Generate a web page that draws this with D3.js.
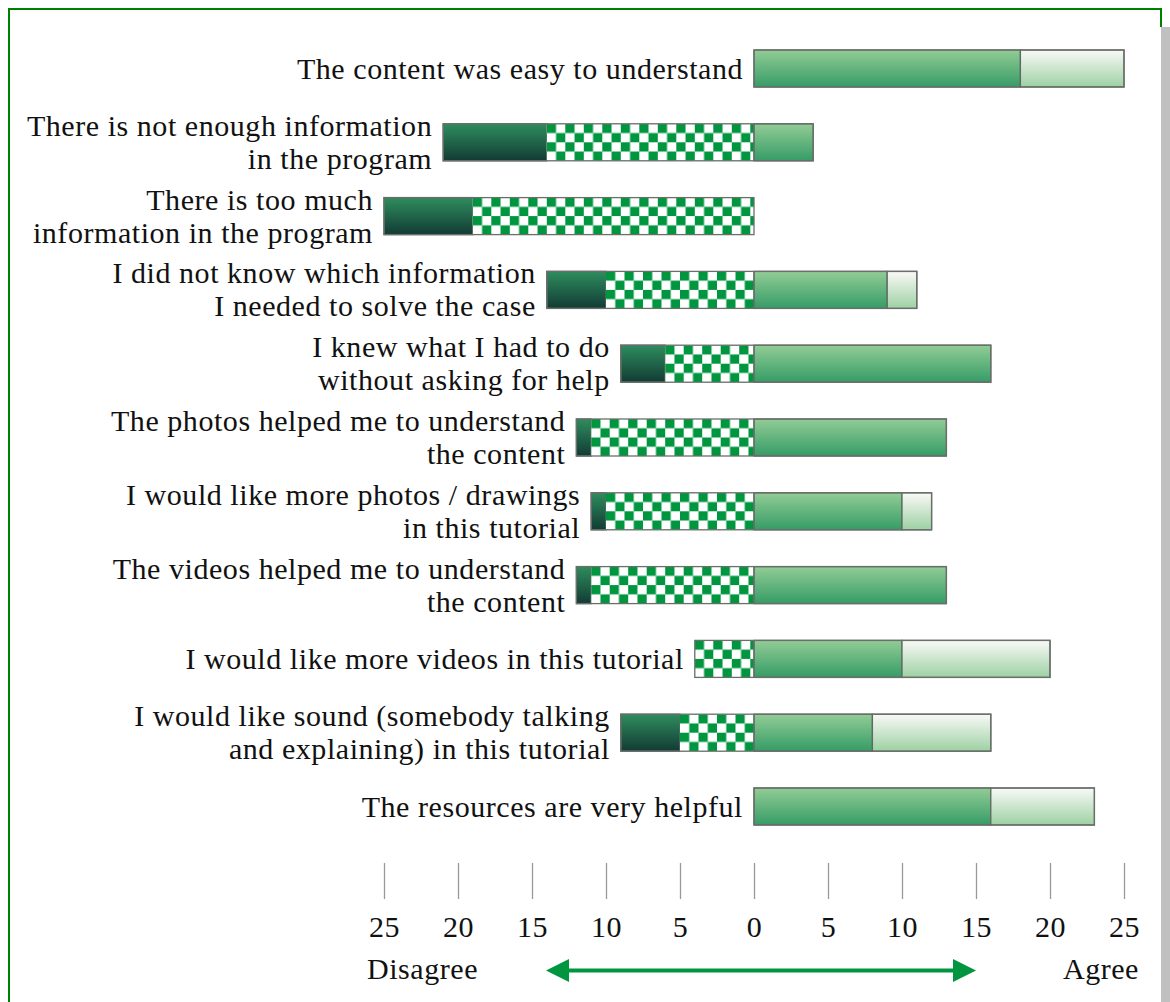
<!DOCTYPE html>
<html><head><meta charset="utf-8">
<script src="https://cdn.jsdelivr.net/npm/d3@7"></script>
<style>html,body{margin:0;padding:0;background:#fff;} svg{display:block;}</style>
</head><body>
<svg id="chart" width="1170" height="1002"></svg>
<script>
// ---- data ----
const categories = [
  ["The content was easy to understand"],
  ["There is not enough information", "in the program"],
  ["There is too much", "information in the program"],
  ["I did not know which information", "I needed to solve the case"],
  ["I knew what I had to do", "without asking for help"],
  ["The photos helped me to understand", "the content"],
  ["I would like more photos / drawings", "in this tutorial"],
  ["The videos helped me to understand", "the content"],
  ["I would like more videos in this tutorial"],
  ["I would like sound (somebody talking", "and explaining) in this tutorial"],
  ["The resources are very helpful"]
];
const stronglyDisagree = [0, 7, 6, 4, 3, 1, 1, 1, 0, 4, 0];
const disagree         = [0, 14, 19, 10, 6, 11, 10, 11, 4, 5, 0];
const agree            = [18, 4, 0, 9, 16, 13, 10, 13, 10, 8, 16];
const stronglyAgree    = [7, 0, 0, 2, 0, 0, 2, 0, 10, 8, 7];
const tickValues = [-25, -20, -15, -10, -5, 0, 5, 10, 15, 20, 25];
const axisLabels = ["Disagree", "Agree"];

// ---- drawing ----
const svg = d3.select("#chart");
const defs = svg.append("defs");
function grad(id, top, bottom) {
  const g = defs.append("linearGradient").attr("id", id)
    .attr("x1", 0).attr("y1", 0).attr("x2", 0).attr("y2", 1);
  g.append("stop").attr("offset", "0%").attr("stop-color", top);
  g.append("stop").attr("offset", "100%").attr("stop-color", bottom);
}
grad("gSD", "#2e8d5e", "#123b34");
grad("gA", "#92cc96", "#369c66");
grad("gSA", "#faf9f7", "#9dd1a3");

const sq = 9.25;
const pat = defs.append("pattern").attr("id", "chk")
  .attr("patternUnits", "userSpaceOnUse")
  .attr("width", sq * 2).attr("height", sq * 2);
pat.append("rect").attr("width", sq * 2).attr("height", sq * 2).attr("fill", "#fff");
pat.append("rect").attr("x", 0).attr("y", 0).attr("width", sq).attr("height", sq).attr("fill", "#00963f");
pat.append("rect").attr("x", sq).attr("y", sq).attr("width", sq).attr("height", sq).attr("fill", "#00963f");

// frame & shadow
svg.append("rect").attr("x", 1161).attr("y", 27).attr("width", 9).attr("height", 975).attr("fill", "#c0c0c0");
svg.append("path").attr("d", "M9,1010 V9 H1161 V27").attr("fill", "none")
  .attr("stroke", "#008000").attr("stroke-width", 2);

const x = d3.scaleLinear().domain([-25, 25]).range([384, 1124]);
const bh = 37;
const font = "'Liberation Serif','Times New Roman',serif";
const fs = 30, ls = 0.55;

categories.forEach((lines, i) => {
  const top = 50 + i * 73.8;
  const cy = top + bh / 2;
  const sd = stronglyDisagree[i], d = disagree[i], a = agree[i], sa = stronglyAgree[i];
  const segs = [
    {x0: -(sd + d), x1: -d, fill: "url(#gSD)"},
    {x0: -d, x1: 0, fill: "url(#chk)", chk: true},
    {x0: 0, x1: a, fill: "url(#gA)"},
    {x0: a, x1: a + sa, fill: "url(#gSA)"}
  ].filter(s => s.x1 > s.x0);
  const g = svg.append("g");
  segs.forEach(s => {
    if (s.chk) {
      const gg = g.append("g").attr("transform", `translate(${x(s.x0)},${top})`);
      gg.append("rect").attr("x", 0).attr("y", 0)
        .attr("width", x(s.x1) - x(s.x0)).attr("height", bh)
        .attr("fill", s.fill);
    } else {
      g.append("rect").attr("x", x(s.x0)).attr("y", top)
        .attr("width", x(s.x1) - x(s.x0)).attr("height", bh)
        .attr("fill", s.fill).attr("stroke", "#5f6b62").attr("stroke-width", 1.3);
    }
  });
  const left = x(-(sd + d)), right = x(a + sa);
  g.append("rect").attr("x", left).attr("y", top).attr("width", right - left).attr("height", bh)
    .attr("fill", "none").attr("stroke", "#6a6f6a").attr("stroke-width", 1.3);
  if (a > 0 && (sd + d) > 0) {
    g.append("line").attr("x1", x(0)).attr("x2", x(0)).attr("y1", top).attr("y2", top + bh)
      .attr("stroke", "#6a6f6a").attr("stroke-width", 1.3);
  }
  const tx = left - 11;
  const t = svg.append("text").attr("text-anchor", "end")
    .attr("font-family", font).attr("font-size", fs).attr("letter-spacing", ls).attr("fill", "#111");
  if (lines.length === 1) {
    t.append("tspan").attr("x", tx).attr("y", cy + 10).text(lines[0]);
  } else {
    t.append("tspan").attr("x", tx).attr("y", cy - 16.5 + 10).text(lines[0]);
    t.append("tspan").attr("x", tx).attr("y", cy + 16.5 + 10).text(lines[1]);
  }
});

// axis
const axis = d3.axisBottom(x).tickValues(tickValues).tickSize(0)
  .tickFormat(v => Math.abs(v));
const ag = svg.append("g").attr("transform", "translate(0,863)").call(axis);
ag.select(".domain").remove();
ag.selectAll(".tick line").attr("y1", 0).attr("y2", 36).attr("stroke", "#999").attr("stroke-width", 1.3);
ag.selectAll(".tick text").attr("y", 74).attr("dy", 0)
  .attr("font-family", font).attr("font-size", fs).attr("letter-spacing", ls).attr("fill", "#111");

svg.append("text").attr("x", 367).attr("y", 979).attr("font-family", font).attr("font-size", fs)
  .attr("letter-spacing", ls).attr("fill", "#111").text(axisLabels[0]);
svg.append("text").attr("x", 1139).attr("y", 979).attr("text-anchor", "end").attr("font-family", font)
  .attr("font-size", fs).attr("letter-spacing", ls).attr("fill", "#111").text(axisLabels[1]);

// arrow
const arrowC = "#00963f";
svg.append("line").attr("x1", 566).attr("x2", 956).attr("y1", 970.5).attr("y2", 970.5)
  .attr("stroke", arrowC).attr("stroke-width", 4);
svg.append("path").attr("d", "M546,970.5 L569,959 L569,982 Z").attr("fill", arrowC);
svg.append("path").attr("d", "M976,970.5 L953,959 L953,982 Z").attr("fill", arrowC);
</script>
</body></html>
